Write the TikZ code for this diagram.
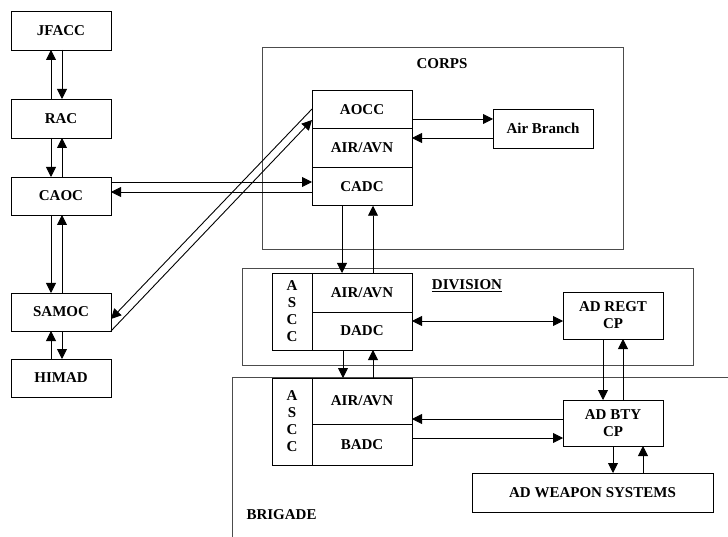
\documentclass[tikz,border=0pt]{standalone}
\usepackage{fontspec}
\setmainfont{Liberation Serif}
\usetikzlibrary{arrows.meta, positioning, calc}

\begin{document}
\begin{tikzpicture}[x=1pt, y=-1pt,
    >={Triangle[length=10pt,width=10pt]},
    box/.style={draw, line width=0.9pt, minimum width=100pt, minimum height=39pt,
                inner sep=0pt, outer sep=0pt, align=center,
                font=\fontsize{15}{17}\selectfont\bfseries},
    frame/.style={draw=black!70, line width=0.9pt},
    arr/.style={->, line width=0.9pt},
    lbl/.style={font=\fontsize{15}{17}\selectfont\bfseries}
  ]
  \useasboundingbox (0,0) rectangle (728,537);

  % command chain on the left
  \node[box] (jfacc) at (61,30.5) {JFACC};
  \node[box] (rac)   at (61,118.5) {RAC};
  \node[box, minimum height=38pt] (caoc)  at (61,196) {CAOC};
  \node[box, minimum height=38pt] (samoc) at (61,312) {SAMOC};
  \node[box, minimum height=38pt] (himad) at (61,378) {HIMAD};

  % corps
  \draw[frame] (262,47) rectangle (623,249);
  \node[lbl] (corps) at (442,64) {CORPS};
  \node[box, minimum height=38.5pt] (aocc) at (362,109.5) {AOCC};
  \node[box, minimum height=38.5pt, below=0pt of aocc] (corpsair) {AIR/AVN};
  \node[box, minimum height=38.5pt, below=0pt of corpsair] (cadc) {CADC};
  \node[box] (airbranch) at (543,128.5) {Air Branch};

  % division
  \draw[frame] (242,268) rectangle (693,365);
  \node[lbl] (division) at (467,286) {\underline{DIVISION}};
  \node[box] (divair) at (362,292.5) {AIR/AVN};
  \node[box, minimum height=38pt, below=0pt of divair] (dadc) {DADC};
  \node[box, minimum width=40pt, minimum height=77pt] (divascc) at (292,311.5) {A\\S\\C\\C};
  \node[box, minimum height=47pt] (adregt) at (613,315.5) {AD REGT\\CP};

  % brigade
  \draw[frame] (232,537) -- (232,377) -- (728,377);
  \node[lbl, anchor=west] (brigade) at (243,515) {BRIGADE};
  \node[box, minimum height=46pt] (brigair) at (362,401) {AIR/AVN};
  \node[box, minimum height=41pt, below=0pt of brigair] (badc) {BADC};
  \node[box, minimum width=40pt, minimum height=87pt] (brigascc) at (292,421.5) {A\\S\\C\\C};
  \node[box, minimum height=46pt] (adbty) at (613,423) {AD BTY\\CP};
  \node[box, minimum width=241pt] (weapons) at (592.5,492.5) {AD WEAPON SYSTEMS};

  % links up and down the left column
  \draw[arr] (rac.north -| 51,0) -- (jfacc.south -| 51,0);
  \draw[arr] (jfacc.south -| 62,0) -- (rac.north -| 62,0);
  \draw[arr] (rac.south -| 51,0) -- (caoc.north -| 51,0);
  \draw[arr] (caoc.north -| 62,0) -- (rac.south -| 62,0);
  \draw[arr] (caoc.south -| 51,0) -- (samoc.north -| 51,0);
  \draw[arr] (samoc.north -| 62,0) -- (caoc.south -| 62,0);
  \draw[arr] (himad.north -| 51,0) -- (samoc.south -| 51,0);
  \draw[arr] (samoc.south -| 62,0) -- (himad.north -| 62,0);

  % links into corps
  \draw[arr] (caoc.east |- 0,182) -- (cadc.west |- 0,182);
  \draw[arr] (cadc.west |- 0,192) -- (caoc.east |- 0,192);
  \draw[arr] (aocc.west |- 0,109) -- (samoc.east |- 0,319);
  \draw[arr] (samoc.south east) -- (aocc.west |- 0,120);
  \draw[arr] (aocc.east |- 0,119) -- (airbranch.west |- 0,119);
  \draw[arr] (airbranch.west |- 0,138) -- (corpsair.east |- 0,138);

  % corps to division to brigade
  \draw[arr] (cadc.south -| 342,0) -- (divair.north -| 342,0);
  \draw[arr] (divair.north -| 373,0) -- (cadc.south -| 373,0);
  \draw[arr, <->] (dadc.east |- 0,321) -- (adregt.west |- 0,321);
  \draw[arr] (dadc.south -| 343,0) -- (brigair.north -| 343,0);
  \draw[arr] (brigair.north -| 373,0) -- (dadc.south -| 373,0);

  % air defence units
  \draw[arr] (adregt.south -| 603,0) -- (adbty.north -| 603,0);
  \draw[arr] (adbty.north -| 623,0) -- (adregt.south -| 623,0);
  \draw[arr] (adbty.west |- 0,419) -- (brigair.east |- 0,419);
  \draw[arr] (badc.east |- 0,438) -- (adbty.west |- 0,438);
  \draw[arr] (adbty.south -| 613,0) -- (weapons.north -| 613,0);
  \draw[arr] (weapons.north -| 643,0) -- (adbty.south -| 643,0);
\end{tikzpicture}
\end{document}
